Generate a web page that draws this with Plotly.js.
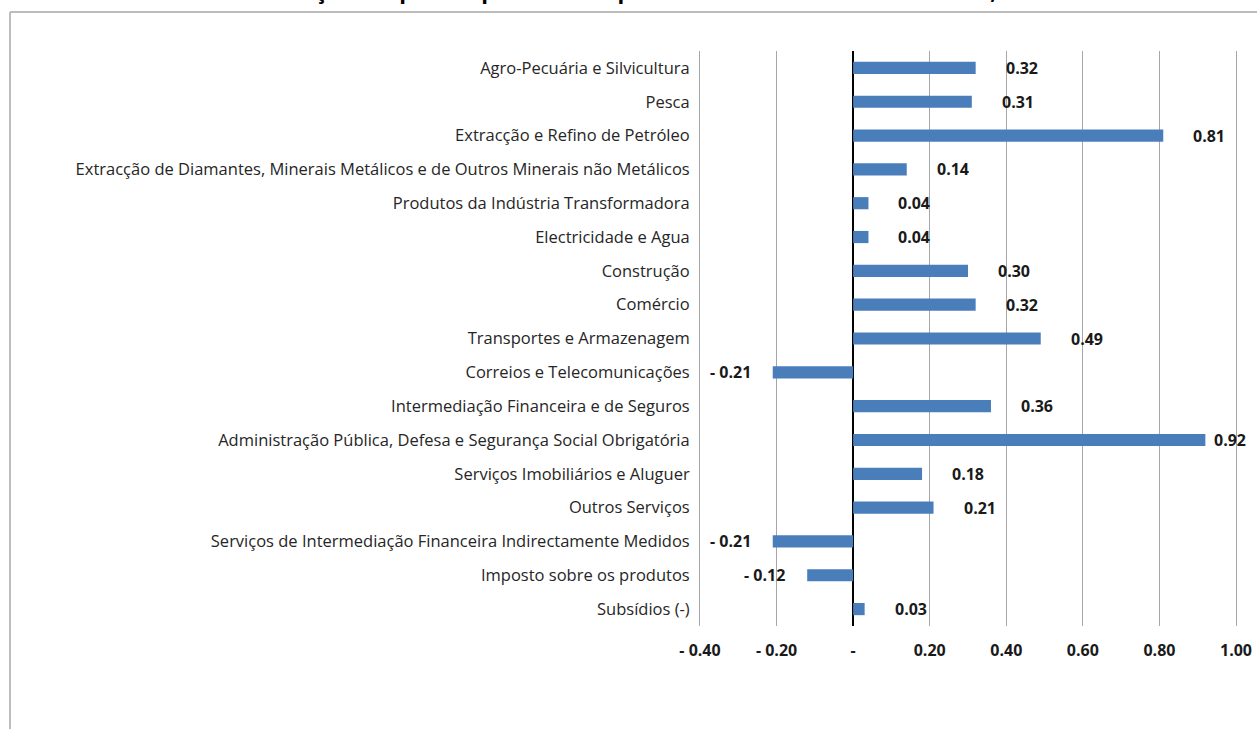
<!DOCTYPE html>
<html>
<head>
<meta charset="utf-8">
<script src="https://cdn.plot.ly/plotly-3.0.1.min.js"></script>
<style>
  html, body { margin: 0; padding: 0; background: #ffffff; }
  #chart { width: 1257px; height: 729px; }
</style>
</head>
<body>
<div id="chart"></div>
<script>
const chartTitle = "Gráfico 3: Contribuição em pontos percentuais para a taxa de crescimento do PIB, III Trimestre";

const categories = [
  "Agro-Pecuária e Silvicultura",
  "Pesca",
  "Extracção e Refino de Petróleo",
  "Extracção de Diamantes, Minerais Metálicos e de Outros Minerais não Metálicos",
  "Produtos da Indústria Transformadora",
  "Electricidade e Agua",
  "Construção",
  "Comércio",
  "Transportes e Armazenagem",
  "Correios e Telecomunicações",
  "Intermediação Financeira e de Seguros",
  "Administração Pública, Defesa e Segurança Social Obrigatória",
  "Serviços Imobiliários e Aluguer",
  "Outros Serviços",
  "Serviços de Intermediação Financeira Indirectamente Medidos",
  "Imposto sobre os produtos",
  "Subsídios (-)"
];

const values = [0.32, 0.31, 0.81, 0.14, 0.04, 0.04, 0.30, 0.32, 0.49, -0.21, 0.36, 0.92, 0.18, 0.21, -0.21, -0.12, 0.03];

const xTickVals = [-0.4, -0.2, 0, 0.2, 0.4, 0.6, 0.8, 1.0];
const xTickText = ["- 0.40", "- 0.20", "-", "0.20", "0.40", "0.60", "0.80", "1.00"];

function fmt(v) {
  return v < 0 ? "- " + Math.abs(v).toFixed(2) : v.toFixed(2);
}

const FONT = "'Open Sans', 'Noto Sans', sans-serif";
const XMIN = -0.4, XMAX = 1.0;

// plot-area placement (pixels)
const L = 700, R = 1236, T = 51, B = 626;
function px(x) { return (x - L) / (R - L); }
function py(y) { return (B - y) / (B - T); }
function valToPx(v) { return L + (v - XMIN) / (XMAX - XMIN) * (R - L); }

const trace = {
  type: "bar",
  orientation: "h",
  x: values,
  y: categories,
  width: 0.36,
  marker: { color: "#4a7ebb", line: { width: 0 } },
  hoverinfo: "x+y"
};

// data labels: offset from bar end, kept inside the chart frame at the right
const annotations = values.map((v, i) => {
  const endPx = valToPx(v);
  const shift = v < 0 ? -20 : Math.min(28, 1212 - endPx);
  return {
    x: v,
    y: categories[i],
    xref: "x",
    yref: "y",
    text: fmt(v),
    showarrow: false,
    xanchor: v < 0 ? "right" : "left",
    xshift: shift,
    font: { family: FONT, size: 16, color: "#1a1a1a", weight: "bold" }
  };
});

// chart title, clipped by the top edge as in the original picture
annotations.push({
  text: chartTitle,
  xref: "paper",
  yref: "paper",
  x: px(619),
  y: py(7.5),
  xanchor: "center",
  yanchor: "bottom",
  showarrow: false,
  font: { family: FONT, size: 22, color: "#000000", weight: "bold" }
});

// Chart-area border (top and left edges of the Excel chart frame)
const shapes = [
  { type: "line", xref: "paper", yref: "paper", x0: px(10), x1: px(1257), y0: py(12), y1: py(12),
    line: { color: "#bdbdbd", width: 2 } },
  { type: "line", xref: "paper", yref: "paper", x0: px(10), x1: px(10), y0: py(12), y1: py(729),
    line: { color: "#bdbdbd", width: 2 } }
];

const layout = {
  width: 1257,
  height: 729,
  margin: { l: L, r: 1257 - R, t: T, b: 729 - B, pad: 0 },
  paper_bgcolor: "#ffffff",
  plot_bgcolor: "#ffffff",
  showlegend: false,
  xaxis: {
    range: [XMIN, XMAX],
    tickvals: xTickVals,
    ticktext: xTickText,
    showgrid: true,
    gridcolor: "#a6a6a6",
    gridwidth: 1,
    zeroline: true,
    zerolinecolor: "#000000",
    zerolinewidth: 1.5,
    showline: false,
    ticks: "",
    ticklabelstandoff: 13,
    tickfont: { family: FONT, size: 16, color: "#1a1a1a", weight: "bold" },
    fixedrange: true
  },
  yaxis: {
    type: "category",
    autorange: "reversed",
    showgrid: false,
    zeroline: false,
    showline: true,
    mirror: true,
    linecolor: "#a6a6a6",
    linewidth: 1,
    ticks: "",
    ticklabelstandoff: 6,
    tickfont: { family: FONT, size: 16.5, color: "#262626" },
    automargin: false,
    fixedrange: true
  },
  annotations: annotations,
  shapes: shapes
};

Plotly.newPlot("chart", [trace], layout, { displayModeBar: false, staticPlot: true });
</script>
</body>
</html>
